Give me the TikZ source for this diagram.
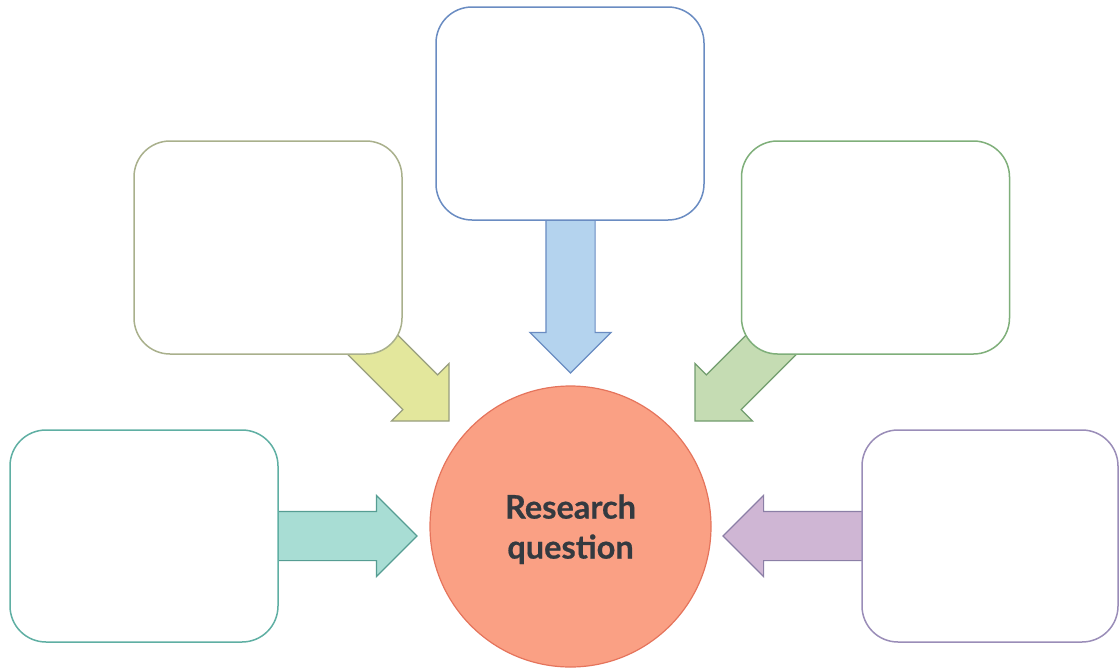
\documentclass[tikz,border=0pt]{standalone}
\usepackage{fontspec}
\setmainfont{Lato}
\newfontfamily\rqfont{Lato}[BoldFeatures={FakeBold=0.6}]
\usepackage{tikz}
\usetikzlibrary{shapes,arrows,calc}
\definecolor{boxblue}{HTML}{6A8CC2}
\definecolor{boxolive}{HTML}{A9B08C}
\definecolor{boxgreen}{HTML}{7FAF7A}
\definecolor{boxteal}{HTML}{5FAFA3}
\definecolor{boxpurple}{HTML}{9A8DB8}
\definecolor{arrblue}{HTML}{B4D3EE}
\definecolor{arrolive}{HTML}{E3E79C}
\definecolor{arrgreen}{HTML}{C5DCB3}
\definecolor{arrteal}{HTML}{A8DDD4}
\definecolor{arrpurple}{HTML}{CFB6D4}
\definecolor{rqfill}{HTML}{FAA084}
\definecolor{rqline}{HTML}{E5745C}
\definecolor{rqtext}{HTML}{343A40}
\tikzstyle{box} = [draw, fill=white, rounded corners=36pt, line width=1.5pt, minimum width=268pt, minimum height=213pt, inner sep=0pt]
\tikzset{
  fatarrow/.style ={single arrow, draw, line width=1.2pt, inner xsep=0pt, inner ysep=24pt, minimum width=0pt, single arrow head extend=16pt, outer sep=0pt, anchor=tip}
}
\begin{document}
\begin{tikzpicture}[x=1pt,y=-1pt]
	\useasboundingbox (0,0) rectangle (1119,667);
	\node[circle, fill=rqfill, draw=rqline, line width=1.2pt, minimum size=281pt, inner sep=0pt, align=center, text depth=0pt, text=rqtext, font=\rqfont\fontsize{32.5}{40}\selectfont\bfseries] (rq) at (570.5,526.5) {Research\\question};

	\node[fatarrow, fill=arrblue, draw=boxblue, rotate=-90, minimum height=183pt] (arrtop) at ($(rq.center)+(0,-153.5)$) {};
	\node[fatarrow, fill=arrolive, draw=boxolive!90!black, rotate=-45, minimum height=182pt] (arrul) at ($(rq.center)+(-121.5,-105.5)$) {};
	\node[fatarrow, fill=arrgreen, draw=boxgreen!90!black, rotate=-135, minimum height=185pt] (arrur) at ($(rq.center)+(124.5,-105.5)$) {};
	\node[fatarrow, fill=arrteal, draw=boxteal!90!black, minimum height=167pt] (arrll) at ($(rq.center)+(-153.5,9.5)$) {};
	\node[fatarrow, fill=arrpurple, draw=boxpurple!90!black, rotate=180, minimum height=167pt] (arrlr) at ($(rq.center)+(152.5,9.5)$) {};

	\node[box, draw=boxblue] (top) at (570,113.5) {};
	\node[box, draw=boxolive] (ul) at (268,247.5) {};
	\node[box, draw=boxgreen] (ur) at (875.5,247.5) {};
	\node[box, draw=boxteal, minimum height=212pt] (ll) at (144,536) {};
	\node[box, draw=boxpurple, minimum width=256pt, minimum height=212pt] (lr) at (990,536) {};
\end{tikzpicture}
\end{document}
